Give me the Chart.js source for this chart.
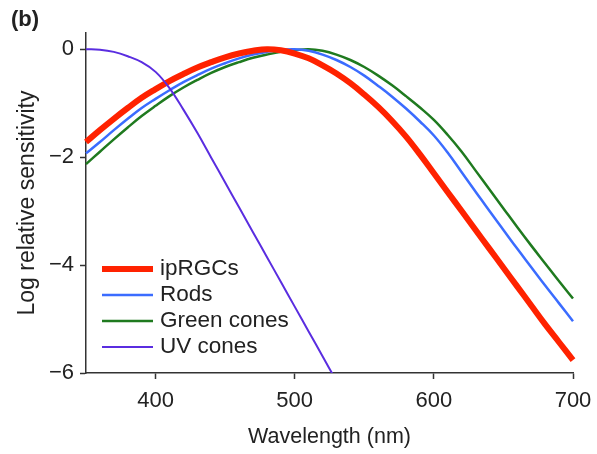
<!DOCTYPE html>
<html>
<head>
<meta charset="utf-8">
<script src="https://cdn.jsdelivr.net/npm/chart.js@4.4.1/dist/chart.umd.min.js"></script>
<style>
  html, body { margin: 0; padding: 0; background: #fff; }
</style>
</head>
<body>
<canvas id="chart" width="597" height="454"></canvas>
<script>
// ===== DATA =====
const wavelengths = [350, 360, 370, 380, 390, 400, 410, 420, 430, 440, 450, 460, 470, 480, 490, 500, 510, 520,
                     530, 540, 550, 560, 570, 580, 590, 600, 610, 620, 630, 640, 650, 660, 670, 680, 690, 700];
const ipRGCs = [-1.72, -1.50, -1.29, -1.09, -0.90, -0.74, -0.59, -0.46, -0.34, -0.24, -0.15, -0.08, -0.03, 0, -0.02, -0.08, -0.17, -0.30,
                -0.45, -0.63, -0.84, -1.07, -1.33, -1.62, -1.95, -2.30, -2.65, -3.00, -3.35, -3.70, -4.05, -4.40, -4.75, -5.10, -5.43, -5.76];
const rods = [-1.93, -1.72, -1.50, -1.29, -1.09, -0.92, -0.76, -0.61, -0.48, -0.36, -0.26, -0.17, -0.10, -0.05, -0.01, 0, -0.03, -0.10,
              -0.20, -0.33, -0.49, -0.68, -0.88, -1.10, -1.34, -1.60, -1.92, -2.28, -2.64, -3.00, -3.35, -3.70, -4.04, -4.38, -4.71, -5.04];
const greenCones = [-2.13, -1.90, -1.67, -1.45, -1.24, -1.05, -0.87, -0.71, -0.57, -0.44, -0.33, -0.24, -0.16, -0.10, -0.05, -0.02, 0, -0.03,
                    -0.10, -0.20, -0.33, -0.49, -0.67, -0.87, -1.08, -1.31, -1.59, -1.90, -2.25, -2.60, -2.95, -3.30, -3.64, -3.97, -4.30, -4.62];
const uvWavelengths = [350, 360, 370, 380, 390, 400, 410, 420, 430, 440, 450, 460, 470, 480, 490, 500, 510, 520, 530];
const uvCones = [0, -0.01, -0.05, -0.13, -0.24, -0.42, -0.72, -1.12, -1.55, -2.01, -2.47, -2.93, -3.39, -3.85, -4.31, -4.77, -5.23, -5.69, -6.15];

const seriesNames = ['ipRGCs', 'Rods', 'Green cones', 'UV cones'];
const xTicks = [400, 500, 600, 700];
const yTicks = [0, -2, -4, -6];

// ===== ESTILO =====
const textColor = '#222';
const axisColor = '#333';
const fontFamily = '"Liberation Sans", Arial, Helvetica, sans-serif';
const colors = ['#ff2200', '#3b6cff', '#1f7a1f', '#5a2de0'];
const widths = [6, 2.5, 2.5, 2];

function toPoints(xs, ys) {
    return xs.map((x, i) => ({ x: x, y: ys[i] }));
}

const seriesData = [
    toPoints(wavelengths, ipRGCs),
    toPoints(wavelengths, rods),
    toPoints(wavelengths, greenCones),
    toPoints(uvWavelengths, uvCones)
];
const drawOrder = [1, 2, 3, 0];

const datasets = seriesNames.map((name, i) => ({
    label: name,
    data: seriesData[i],
    borderColor: colors[i],
    backgroundColor: colors[i],
    borderWidth: widths[i],
    pointRadius: 0,
    fill: false,
    tension: 0.4,
    order: drawOrder[i],
    clip: { left: 4, right: 4, top: 4, bottom: 0 }
}));

// leyenda dentro del area + etiqueta (b)
const overlayPlugin = {
    id: 'overlay',
    afterDraw(chart) {
        const ctx = chart.ctx;
        ctx.save();
        ctx.fillStyle = textColor;
        ctx.font = 'bold 22px ' + fontFamily;
        ctx.textAlign = 'left';
        ctx.textBaseline = 'middle';
        ctx.fillText('(b)', 11, 20);

        ctx.font = '22.5px ' + fontFamily;
        const rowY = [269, 295, 321, 347];
        seriesNames.forEach((name, i) => {
            ctx.strokeStyle = colors[i];
            ctx.lineWidth = widths[i];
            ctx.beginPath();
            ctx.moveTo(102, rowY[i]);
            ctx.lineTo(153, rowY[i]);
            ctx.stroke();
            ctx.fillText(name, 160, rowY[i]);
        });
        ctx.restore();
    }
};

new Chart(document.getElementById('chart'), {
    type: 'line',
    data: { datasets: datasets },
    options: {
        responsive: false,
        animation: false,
        devicePixelRatio: 1,
        layout: { padding: { left: 0, right: 24, top: 33, bottom: 0 } },
        plugins: {
            legend: { display: false },
            tooltip: { enabled: false }
        },
        scales: {
            x: {
                type: 'linear',
                min: 350,
                max: 700,
                afterBuildTicks: s => { s.ticks = xTicks.map(v => ({ value: v })); },
                afterFit: s => { s.height = 81; s.paddingLeft = 0; s.paddingRight = 0; },
                grid: { drawOnChartArea: false, tickLength: 6, tickColor: axisColor, tickWidth: 1.5 },
                border: { color: axisColor, width: 1.5 },
                ticks: { color: textColor, font: { family: fontFamily, size: 22 }, padding: 9, maxRotation: 0 },
                title: {
                    display: true, text: 'Wavelength (nm)', color: textColor,
                    font: { family: fontFamily, size: 21.5 }, padding: { top: 0, bottom: 4 }
                }
            },
            y: {
                min: -6,
                max: 0.3,
                afterBuildTicks: s => { s.ticks = yTicks.map(v => ({ value: v })); },
                afterFit: s => { s.width = 86; s.paddingTop = 0; s.paddingBottom = 0; },
                grid: { drawOnChartArea: false, tickLength: 6, tickColor: axisColor, tickWidth: 1.5 },
                border: { color: axisColor, width: 1.5 },
                ticks: {
                    color: textColor, font: { family: fontFamily, size: 22 }, padding: 6,
                    callback: v => (v === 0 ? '0' : '\u2212' + Math.abs(v))
                },
                title: {
                    display: true, text: 'Log relative sensitivity', color: textColor,
                    font: { family: fontFamily, size: 23 }, padding: { top: 14, bottom: 0 }
                }
            }
        }
    },
    plugins: [overlayPlugin]
});
</script>
</body>
</html>
